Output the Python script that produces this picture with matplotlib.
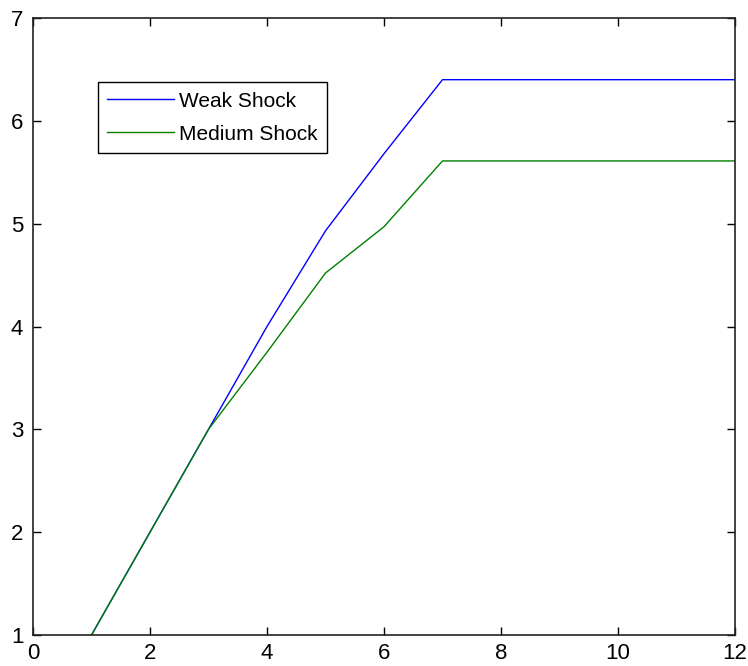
import matplotlib.pyplot as plt

x = [1, 2, 3, 4, 5, 6, 7, 8, 9, 10, 11, 12]
weak = [1.0, 2.0, 3.0, 4.0, 4.93, 5.68, 6.40, 6.40, 6.40, 6.40, 6.40, 6.40]
medium = [1.0, 2.0, 3.0, 3.75, 4.52, 4.97, 5.61, 5.61, 5.61, 5.61, 5.61, 5.61]
labels = ['Weak Shock', 'Medium Shock']

fig = plt.figure(figsize=(7.48, 6.66), dpi=100)
ax = fig.add_axes([0.0441, 0.0465, 0.9385, 0.9265])

ax.plot(x, weak, color='#0000ff', lw=1.0, label=labels[0])
ax.plot(x, medium, color='#008000', lw=1.0, label=labels[1])

ax.set_xlim(0, 12)
ax.set_ylim(1, 7)
ax.set_xticks(range(0, 13, 2))
ax.set_yticks(range(1, 8))

for s in ax.spines.values():
    s.set_linewidth(1.2)
    s.set_color('#222222')

ax.tick_params(direction='in', top=True, right=True, length=6, width=1.0,
               labelsize=16)
ax.tick_params(axis='y', pad=7)
ax.tick_params(axis='x', pad=6)
for lab in ax.get_xticklabels() + ax.get_yticklabels():
    lab.set_family(['Liberation Sans', 'DejaVu Sans'])

leg = ax.legend(loc='upper left', bbox_to_anchor=(0.0926, 0.896),
                borderaxespad=0, fancybox=False, framealpha=1,
                edgecolor='black', prop={'family': 'Liberation Sans', 'size': 15},
                handlelength=3.2, handletextpad=0.25, labelspacing=0.68,
                borderpad=0.45)
leg.get_frame().set_linewidth(1.0)

fig.savefig('out.png', dpi=100)
